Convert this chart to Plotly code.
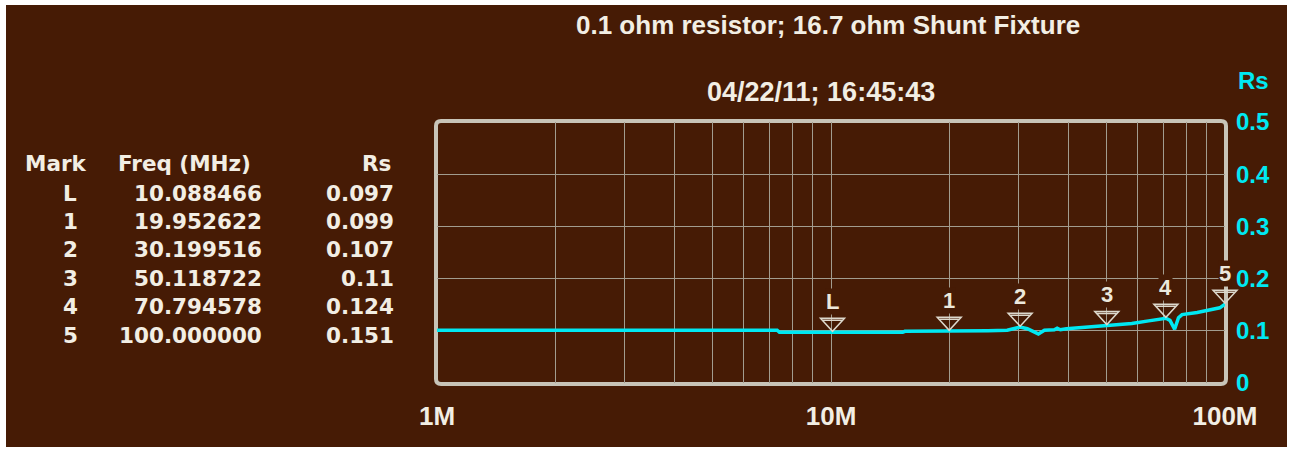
import math
import plotly.graph_objects as go

# Swept resistance trace (frequency in MHz, Rs in ohms)
freq_mhz = [1, 7.3, 7.4, 10.088466, 15.2, 15.4, 19.952622, 25, 28, 30.199516,
            31.5, 33.6, 34.8, 36.9, 37.5, 38.2, 39.6, 45, 50.118722, 55, 58,
            64, 67, 70.794578, 72.5, 74.5, 76.2, 77.8, 85, 92, 97, 100]
rs_ohm = [0.101, 0.101, 0.097, 0.097, 0.097, 0.099, 0.099, 0.100, 0.101, 0.107,
          0.104, 0.094, 0.101, 0.102, 0.105, 0.102, 0.104, 0.107, 0.110, 0.112, 0.114,
          0.119, 0.121, 0.124, 0.120, 0.103, 0.125, 0.131, 0.135, 0.140, 0.144, 0.151]

# Marker table
mark_names = ["L", "1", "2", "3", "4", "5"]
mark_freq_text = ["10.088466", "19.952622", "30.199516", "50.118722", "70.794578", "100.000000"]
mark_rs_text = ["0.097", "0.099", "0.107", "0.11", "0.124", "0.151"]
mark_freq = [float(v) for v in mark_freq_text]
mark_rs = [float(v) for v in mark_rs_text]

# Axis ticks
x_decades = [1, 10, 100]
x_decade_text = ["1M", "10M", "100M"]
y_ticks = [0, 0.1, 0.2, 0.3, 0.4, 0.5]
y_tick_text = ["0", "0.1", "0.2", "0.3", "0.4", "0.5"]

title_text = "0.1 ohm resistor; 16.7 ohm Shunt Fixture"
date_text = "04/22/11; 16:45:43"

BG = "#461b05"
FRAME = "#c8c4b8"
GRID = "#a29c8f"
TRACE = "#00e8f2"
TEXT = "#f2eee4"

W, H = 1291, 452
PL, PR, PT, PB = 437, 1225, 122, 383  # plot area in pixels
X_RANGE = [math.log10(x_decades[0]), math.log10(x_decades[-1])]


def px(xp):
    return (xp - PL) / (PR - PL)


def py(yp):
    return (PB - yp) / (PB - PT)


def x_frac(f):
    # position of a frequency as a fraction of the log x axis span
    return (math.log10(f) - X_RANGE[0]) / (X_RANGE[1] - X_RANGE[0])


def label(xp, yp, text, font, xanchor="center"):
    return dict(x=px(xp), y=py(yp), xref="paper", yref="paper", text=text,
                showarrow=False, xanchor=xanchor, yanchor="middle", font=font)


# full grid of decade/minor frequencies
x_grid = []
x_grid_text = []
for d in x_decades[:-1]:
    for k in range(1, 10):
        x_grid.append(d * k)
        x_grid_text.append(f"<b>{x_decade_text[x_decades.index(d)]}</b>" if k == 1 else "")
x_grid.append(x_decades[-1])
x_grid_text.append(f"<b>{x_decade_text[-1]}</b>")

fig = go.Figure()
fig.add_trace(go.Scatter(x=freq_mhz, y=rs_ohm, mode="lines",
                         line=dict(color=TRACE, width=3.5), hoverinfo="skip",
                         showlegend=False))

shapes = []
# page background
shapes.append(dict(type="rect", xref="paper", yref="paper", layer="below",
                   x0=px(6), x1=px(1287), y0=py(447), y1=py(5),
                   fillcolor=BG, line=dict(width=0)))
# rounded frame around the plot area
rx, ry = 5 / (PR - PL), 5 / (PB - PT)
x0, x1, y0, y1 = px(PL - 1), px(PR + 1), py(PB + 1), py(PT - 1)
frame_path = (f"M{x0 + rx},{y1} L{x1 - rx},{y1} Q{x1},{y1} {x1},{y1 - ry} "
              f"L{x1},{y0 + ry} Q{x1},{y0} {x1 - rx},{y0} L{x0 + rx},{y0} "
              f"Q{x0},{y0} {x0},{y0 + ry} L{x0},{y1 - ry} Q{x0},{y1} {x0 + rx},{y1} Z")
shapes.append(dict(type="path", xref="paper", yref="paper", layer="between",
                   path=frame_path, line=dict(color=FRAME, width=4)))

# marker triangles, tip on the trace point (paper x so the last one is not clipped)
for f, r in zip(mark_freq, mark_rs):
    shapes.append(dict(type="path", xref="paper", yref="y", layer="above",
                       xsizemode="pixel", ysizemode="pixel", xanchor=x_frac(f), yanchor=r,
                       path="M-12,14 L12,14 L0,1 Z M-10,12 L10,12",
                       line=dict(color="#dcd8cc", width=1.5)))

ann = []
for f, r, name in zip(mark_freq, mark_rs, mark_names):
    ann.append(dict(x=math.log10(f), y=r, xref="x", yref="y", text=f"<b>{name}</b>",
                    showarrow=False, yshift=31, bgcolor=BG, borderpad=0,
                    xanchor="center", yanchor="middle",
                    font=dict(family="Liberation Sans", size=22, color="#ece8dc")))

ann.append(label(828, 25, f"<b>{title_text}</b>",
                 dict(family="Liberation Sans", size=26, color=TEXT)))
ann.append(label(821, 92, f"<b>{date_text}</b>",
                 dict(family="Liberation Sans", size=27, color=TEXT)))
ann.append(label(1253, 80, "<b>Rs</b>",
                 dict(family="Liberation Sans", size=24, color=TRACE)))

tfont = dict(family="DejaVu Sans", size=21.5, color=TEXT)
ann.append(label(56, 163, "<b>Mark</b>", tfont))
ann.append(label(253, 163, "<b>Freq (MHz)</b>", tfont, "right"))
ann.append(label(393, 163, "<b>Rs</b>", tfont, "right"))
for i, (name, ft, rt) in enumerate(zip(mark_names, mark_freq_text, mark_rs_text)):
    yp = 193 + i * 28.4
    ann.append(label(70, yp, f"<b>{name}</b>", tfont))
    ann.append(label(264, yp, f"<b>{ft}</b>", tfont, "right"))
    ann.append(label(396, yp, f"<b>{rt}</b>", tfont, "right"))

fig.update_layout(
    width=W, height=H,
    margin=dict(l=PL, r=W - PR, t=PT, b=H - PB, pad=0),
    paper_bgcolor="white", plot_bgcolor=BG,
    shapes=shapes, annotations=ann,
    xaxis=dict(type="log", range=X_RANGE, tickmode="array", tickvals=x_grid,
               ticktext=x_grid_text, showgrid=True, gridcolor=GRID, gridwidth=1,
               zeroline=False, showline=False, ticks="", ticklabelstandoff=15,
               tickfont=dict(family="Liberation Sans", size=26, color=TEXT),
               fixedrange=True),
    yaxis=dict(range=[0, 0.5], side="right", tickmode="array", tickvals=y_ticks,
               ticktext=[f"<b>{t}</b>" for t in y_tick_text], showgrid=True,
               gridcolor=GRID, gridwidth=1,
               zeroline=False, showline=False, ticks="", ticklabelstandoff=10,
               tickfont=dict(family="Liberation Sans", size=24, color=TRACE),
               fixedrange=True),
)

fig.write_html("out.html")
